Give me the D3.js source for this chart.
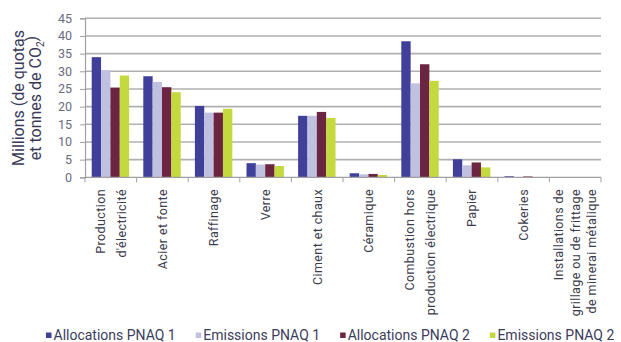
<!DOCTYPE html>
<html>
<head>
<meta charset="utf-8">
<script src="https://cdn.jsdelivr.net/npm/d3@7"></script>
<style>
  html, body { margin: 0; padding: 0; background: #fff; }
  svg { display: block; font-family: Roboto, "Noto Sans", sans-serif; }
</style>
</head>
<body>
<svg id="chart" width="621" height="342"></svg>
<script>
// Secteurs (libellés sur plusieurs lignes)
const categories = [
  ["Production", "d'électricité"],
  ["Acier et fonte"],
  ["Raffinage"],
  ["Verre"],
  ["Ciment et chaux"],
  ["Céramique"],
  ["Combustion hors", "production électrique"],
  ["Papier"],
  ["Cokeries"],
  ["Installations de", "grillage ou de frittage", "de minerai métalique"]
];

// Millions de quotas / tonnes de CO2 par secteur
const allocationsPnaq1 = [34.0, 28.6, 20.2, 4.0, 17.4, 1.15, 38.5, 5.1, 0.3, 0.08];
const emissionsPnaq1   = [30.3, 27.0, 18.3, 3.6, 17.4, 0.85, 26.6, 3.4, 0.06, 0.05];
const allocationsPnaq2 = [25.4, 25.5, 18.3, 3.7, 18.5, 0.95, 32.0, 4.2, 0.25, 0.08];
const emissionsPnaq2   = [28.8, 24.1, 19.4, 3.2, 16.8, 0.65, 27.3, 2.8, 0.06, 0.05];

const seriesNames  = ["Allocations PNAQ 1", "Emissions PNAQ 1", "Allocations PNAQ 2", "Emissions PNAQ 2"];
const seriesColors = ["#40409a", "#c0c0e0", "#6b2540", "#c4d93e"];
const yTicks = [0, 5, 10, 15, 20, 25, 30, 35, 40, 45];

const seriesValues = [allocationsPnaq1, emissionsPnaq1, allocationsPnaq2, emissionsPnaq2];

const svg = d3.select("#chart");
const plot = { left: 85, right: 601, top: 18.3, bottom: 177.3 };

const x0 = d3.scaleBand()
  .domain(d3.range(categories.length))
  .range([plot.left, plot.right])
  .padding(0);

const x1 = d3.scaleBand()
  .domain(d3.range(seriesNames.length))
  .range([x0.bandwidth() * 0.13, x0.bandwidth() * 0.855])
  .padding(0);

const y = d3.scaleLinear().domain([0, 45]).range([plot.bottom, plot.top]);

// Grid lines
svg.append("g")
  .selectAll("line")
  .data(yTicks.filter(d => d > 0))
  .join("line")
  .attr("x1", plot.left)
  .attr("x2", plot.right)
  .attr("y1", d => y(d))
  .attr("y2", d => y(d))
  .attr("stroke", "#b0b0b0")
  .attr("stroke-width", 1.6);

// Y axis
const yAxis = svg.append("g")
  .attr("transform", `translate(${plot.left},0)`)
  .call(d3.axisLeft(y).tickValues(yTicks).tickSize(5).tickPadding(8).tickFormat(d3.format("d")));
yAxis.select(".domain").attr("stroke", "#a0a0a0").attr("stroke-width", 1.2);
yAxis.selectAll(".tick line").attr("stroke", "#a0a0a0");
yAxis.selectAll(".tick text")
  .attr("fill", "#6a6a80")
  .style("font-size", "12.5px")
  .style("font-family", "Roboto, sans-serif");

// Bars
svg.append("g")
  .selectAll("g")
  .data(categories.map((c, i) => i))
  .join("g")
  .attr("transform", i => `translate(${x0(i)},0)`)
  .selectAll("rect")
  .data(i => seriesValues.map((vals, s) => ({ s, v: vals[i] })))
  .join("rect")
  .attr("x", d => x1(d.s))
  .attr("width", x1.bandwidth())
  .attr("y", d => y(d.v))
  .attr("height", d => y(0) - y(d.v))
  .attr("fill", d => seriesColors[d.s]);

// X axis baseline and boundary ticks
const xAxis = svg.append("g");
xAxis.append("line")
  .attr("x1", plot.left).attr("x2", plot.right)
  .attr("y1", plot.bottom).attr("y2", plot.bottom)
  .attr("stroke", "#a0a0a0").attr("stroke-width", 1.2);
xAxis.selectAll("line.tick")
  .data(d3.range(categories.length + 1))
  .join("line")
  .attr("class", "tick")
  .attr("x1", i => i < categories.length ? x0(i) : plot.right)
  .attr("x2", i => i < categories.length ? x0(i) : plot.right)
  .attr("y1", plot.bottom)
  .attr("y2", plot.bottom + 5)
  .attr("stroke", "#a0a0a0");

// Category labels, rotated
const labelGroups = svg.append("g")
  .selectAll("g")
  .data(categories)
  .join("g");
labelGroups.each(function(lines, i) {
  const cx = x0(i) + x0.bandwidth() / 2;
  const n = lines.length;
  const spacing = n === 3 ? 16.5 : 21;
  d3.select(this).selectAll("text")
    .data(lines)
    .join("text")
    .attr("transform", (t, j) => `translate(${cx + (j - (n - 1) / 2) * spacing},189) rotate(-90)`)
    .attr("dy", "0.35em")
    .attr("text-anchor", "end")
    .attr("fill", "#3c3c4c")
    .style("font-size", "12.5px")
    .style("letter-spacing", "0.4px")
    .text(t => t);
});

// Y axis title
const title = svg.append("g").attr("transform", "translate(0,98) rotate(-90)");
title.append("text")
  .attr("x", 0).attr("y", 24)
  .attr("text-anchor", "middle")
  .attr("fill", "#3a3a58")
  .style("font-size", "16px")
  .text("Millions (de quotas");
const t2 = title.append("text")
  .attr("x", 0).attr("y", 41)
  .attr("text-anchor", "middle")
  .attr("fill", "#3a3a58")
  .style("font-size", "16px");
t2.append("tspan").text("et tonnes de CO");
t2.append("tspan").attr("dy", "0.3em").style("font-size", "10px").text("2");
t2.append("tspan").attr("dy", "-0.45em").text(")");

// Legend
const legend = svg.append("g").attr("transform", "translate(46,335)");
let lx = 0;
seriesNames.forEach((name, s) => {
  const item = legend.append("g").attr("transform", `translate(${lx},0)`);
  item.append("rect")
    .attr("x", 0).attr("y", -2.5)
    .attr("width", 5.5).attr("height", 5.5)
    .attr("fill", seriesColors[s]);
  const txt = item.append("text")
    .attr("x", 7.5).attr("y", 0)
    .attr("dy", "0.35em")
    .attr("fill", "#3c3c5c")
    .style("font-size", "14px")
    .text(name);
  lx += 7.5 + txt.node().getComputedTextLength() + 20;
});
</script>
</body>
</html>
